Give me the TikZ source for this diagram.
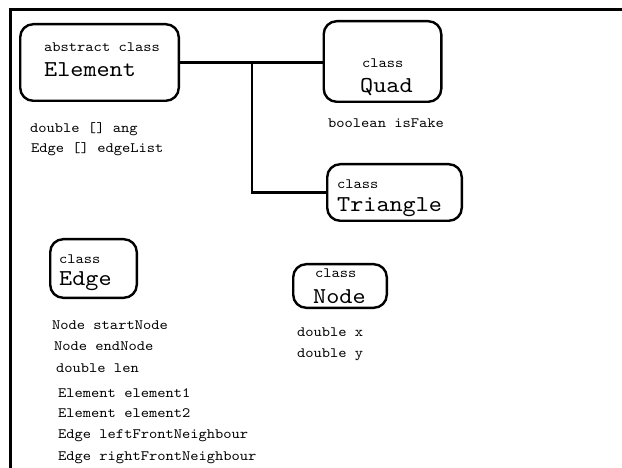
\documentclass[tikz,border=0pt]{standalone}
\usepackage{fontspec}
\setmonofont[FakeStretch=1.1]{lmmono10-regular.otf}
\usetikzlibrary{positioning}

\begin{document}
\begin{tikzpicture}[
            x=1pt, y=-1pt,
            classbox/.style={rectangle, draw, line width=2.4pt, rounded corners=13pt, inner sep=0pt},
            kind/.style={anchor=base west, inner sep=0pt, font=\fontsize{14.3}{17}\selectfont\ttfamily},
            cname/.style={anchor=base west, inner sep=0pt, font=\fontsize{22.7}{27}\selectfont\ttfamily},
            field/.style={anchor=base west, inner sep=0pt, font=\fontsize{14.3}{17}\selectfont\ttfamily},
            link/.style={line width=2.4pt}
        ]
            \useasboundingbox (0,0) rectangle (622,468);
            \draw[line width=3pt] (10,468) -- (10,10) -- (622,10);

            % class boxes
            \node[classbox, minimum width=158.6, minimum height=76.6] (element) at (99.5,62.5) {};
            \node[classbox, minimum width=117.6, minimum height=80.6] (quad) at (382.5,61.5) {};
            \node[classbox, minimum width=134.6, minimum height=56.6] (triangle) at (394.5,192.5) {};
            \node[classbox, minimum width=86.6, minimum height=58.6] (edge) at (93.5,268.5) {};
            \node[classbox, minimum width=93.6, minimum height=43.6] (vertex) at (340,286) {};

            % names
            \node[kind] (elementkind) at (44,52) {abstract class};
            \node[cname] (elementname) at (44,77) {Element};
            \node[kind] (quadkind) at (362,68) {class};
            \node[cname] (quadname) at (360,93) {Quad};
            \node[kind] (trianglekind) at (337,189) {class};
            \node[cname] (trianglename) at (337,212) {Triangle};
            \node[kind] (edgekind) at (59,264) {class};
            \node[cname] (edgename) at (59,285) {Edge};
            \node[kind] (vertexkind) at (315,277) {class};
            \node[cname] (vertexname) at (313,303) {Node};

            % fields
            \node[field] (ang) at (30,133) {double [] ang};
            \node[field] (edgelist) at (31,153) {Edge [] edgeList};
            \node[field] (isfake) at (328,128) {boolean isFake};
            \node[field] (startnode) at (52,330) {Node startNode};
            \node[field] (endnode) at (54,350) {Node endNode};
            \node[field] (len) at (56,372) {double len};
            \node[field] (element1) at (58,397) {Element element1};
            \node[field] (element2) at (58,417) {Element element2};
            \node[field] (leftfront) at (58,438) {Edge leftFrontNeighbour};
            \node[field] (rightfront) at (58,460) {Edge rightFrontNeighbour};
            \node[field] (xcoord) at (297,337) {double x};
            \node[field] (ycoord) at (297,357) {double y};

            % inheritance lines
            \coordinate (fork) at (252,62);
            \draw[link] (element.east) -- (element.east -| quad.west);
            \draw[link] (fork) |- (triangle.west);
        \end{tikzpicture}
\end{document}
